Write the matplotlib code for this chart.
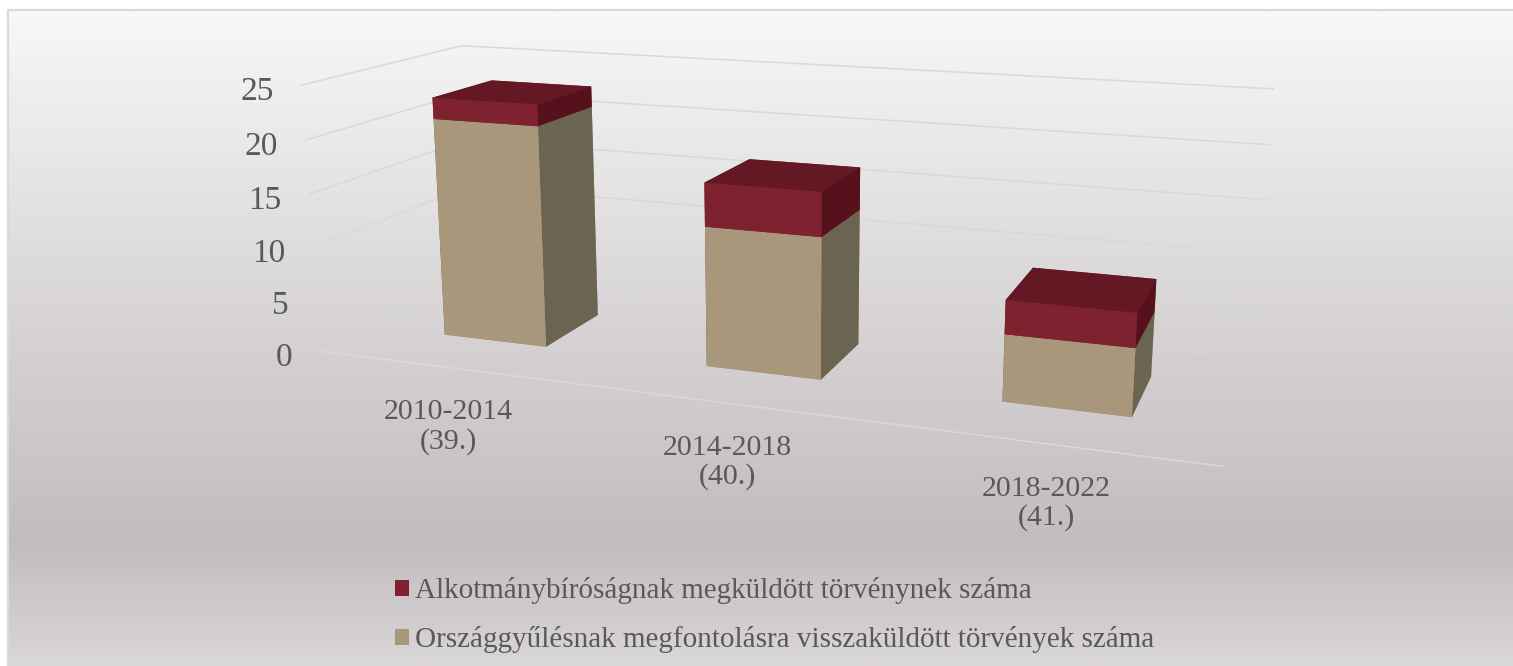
import numpy as np
import matplotlib
matplotlib.use("Agg")
import matplotlib.pyplot as plt
from matplotlib.colors import LinearSegmentedColormap
from matplotlib.patches import Patch
from mpl_toolkits.mplot3d import proj3d

plt.rcParams['font.family'] = ['Liberation Serif', 'DejaVu Serif']

# data
periods = ["2010-2014\n(39.)", "2014-2018\n(40.)", "2018-2022\n(41.)"]
returned = [21, 13, 6]
sent_to_court = [2, 4, 3]
y_ticks = [0, 5, 10, 15, 20, 25]
label_court = "Alkotmánybíróságnak megküldött törvénynek száma"
label_returned = "Országgyűlésnak megfontolásra visszaküldött törvények száma"

W, H = 1513, 666
GRAY = "#595959"
GRID = "#d9d9d9"
# faces: bottom, top, -y (front), +y, -x, +x (side)
BROWN = ["#a8977a", "#a8977a", "#a8977a", "#a8977a", "#6b6450", "#6b6450"]
RED = ["#7e2230", "#641823", "#7e2230", "#7e2230", "#55121d", "#55121d"]

fig = plt.figure(figsize=(W/100, H/100), dpi=100, facecolor="white")

# panel background with vertical gradient
bg = fig.add_axes([8/W, 0, 1 - 8/W, 1 - 10/H])
bg.axis("off")
cmap = LinearSegmentedColormap.from_list("panel", [(0, "#f8f8f8"), (0.4, "#dcd9da"),
                                                   (0.815, "#c2bcbe"), (1, "#dad7d8")])
bg.imshow(np.linspace(0, 1, 512)[:, None], cmap=cmap, aspect="auto", extent=(0, 1, 0, 1), vmin=0, vmax=1)
bg.set_xlim(0, 1)
bg.set_ylim(0, 1)
fig.add_artist(plt.Line2D([8/W, 8/W, 1], [0, 1 - 10/H, 1 - 10/H], color="#d9d9d9", lw=1.6))

# camera found by matching the corners of the reference
size = 962.9
cx, cy = 770.49, 236.75
ax = fig.add_axes([(cx - size/2)/W, 1 - (cy + size/2)/H, size/W, size/H], projection="3d", computed_zorder=False)
ax.patch.set_visible(False)
ax.set_axis_off()
ax.set_xlim(0, 3, view_margin=0)
ax.set_ylim(0, 1, view_margin=0)
ax.set_zlim(0, 25, view_margin=0)
ax.set_box_aspect((1, 0.335, 0.3058))
ax.view_init(13.8769, -69.7164, 0.0583)
ax.set_proj_type("persp", focal_length=0.3217)
ax.apply_aspect()

def label_at(x, y, z, dx, dy, s, **kw):
    # plain figure text placed next to a point of the 3d box, offset in pixels
    a, b, _ = proj3d.proj_transform(x, y, z, ax.get_proj())
    px, py = ax.transData.transform((a, b))
    fig.text((px + dx)/W, (py - dy)/H, s, color=GRAY, **kw)

for t in y_ticks:
    # the two lowest lines nearly vanish into the background
    fade = {0: 0.35, 5: 0.6}.get(t, 1)
    ax.plot([0, 0, 3], [0, 1, 1], [t, t, t], color=GRID, lw=1.1, alpha=fade, zorder=1, clip_on=False)
    label_at(0, 0, t, -28, 6.5, str(t), ha="right", va="center", fontsize=24)
ax.plot([0, 3], [0, 0], [0, 0], color=GRID, lw=1.1, zorder=1, clip_on=False)

bar_w, y0, y1 = 0.4006, 0.3061, 0.7022
for i in range(len(periods)):
    x = i + 0.5 - bar_w/2
    ax.bar3d(x, y0, 0, bar_w, y1 - y0, returned[i], color=BROWN, shade=False, zorder=2 + i)
    ax.bar3d(x, y0, returned[i], bar_w, y1 - y0, sent_to_court[i], color=RED, shade=False, zorder=2.5 + i)
    label_at(i + 0.5, 0, 0, 0, 59.5, periods[i], ha="center", va="center", fontsize=21.5, linespacing=1.12)

handles = [Patch(facecolor="#7e2230", lw=0), Patch(facecolor="#a8977a", lw=0)]
fig.legend(handles, [label_court, label_returned], loc="upper left", bbox_to_anchor=(395/W, 1 - 577/H),
           frameon=False, fontsize=20.98, labelcolor=GRAY, handlelength=0.48, handleheight=0.48,
           handletextpad=0.22, labelspacing=0.76, borderpad=0, borderaxespad=0)

fig.savefig("out.png", dpi=100)
